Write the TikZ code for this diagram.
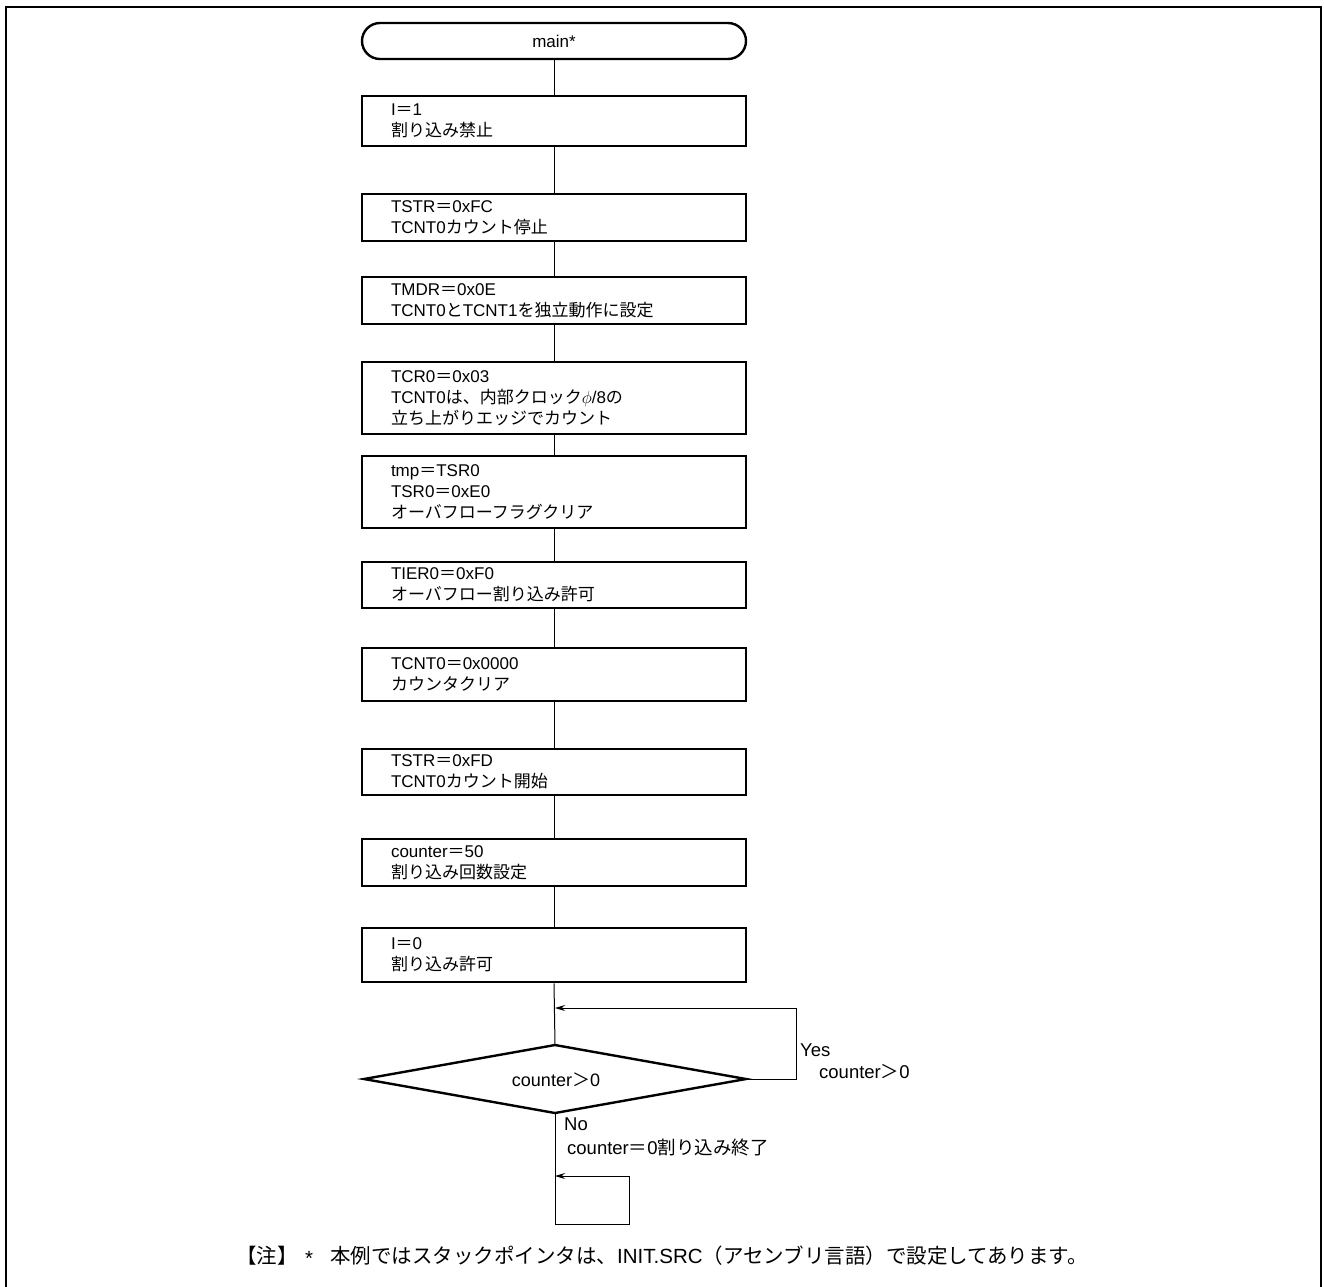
\documentclass[tikz,border=0pt]{standalone}
\usepackage{fontspec}
\setmainfont{Liberation Sans}
\newfontfamily\jp{Noto Sans CJK JP}
\newcommand\J[1]{{\jp #1}}
\usetikzlibrary{shapes.geometric,arrows.meta}
\begin{document}
\begin{tikzpicture}[x=1pt,y=-1pt,
  every node/.style={font=\fontsize{17}{21}\selectfont},
  procbox/.style={draw, line width=2.4pt, minimum width=384pt, text width=326pt,
    align=left, inner xsep=29pt, inner ysep=0pt, anchor=north},
  termbox/.style={draw, line width=2.4pt, minimum width=384pt, minimum height=36pt,
    rounded corners=18pt, inner sep=0pt},
  decline/.style={line width=2.4pt, line join=miter},
  conn/.style={line width=1pt},
  arr/.style={line width=1pt, -{Stealth[length=10pt,width=6pt]}},
  lbl/.style={inner sep=0pt, anchor=west, font=\fontsize{18.5}{21}\selectfont},
  note/.style={inner sep=0pt, anchor=west, font=\fontsize{20.5}{22}\selectfont},
  frame/.style={line width=2.5pt}
]
\useasboundingbox (0,0) rectangle (1324,1286);
\draw[frame] (6,1300) -- (6,7) -- (1321,7) -- (1321,1300);

\node[termbox] (t0) at (554,41) {main*};
\node[procbox, minimum height=50pt] (b1) at (554,95) {I\J{＝}1\\\J{割り込み禁止}};
\node[procbox, minimum height=47pt] (b2) at (554,193) {TSTR\J{＝}0xFC\\TCNT0\J{カウント停止}};
\node[procbox, minimum height=47pt] (b3) at (554,276) {TMDR\J{＝}0x0E\\TCNT0\J{と}TCNT1\J{を独立動作に設定}};
\node[procbox, minimum height=72pt] (b4) at (554,361) {TCR0\J{＝}0x03\\TCNT0\J{は、内部クロック}$\phi$/8\J{の}\\\J{立ち上がりエッジでカウント}};
\node[procbox, minimum height=72pt] (b5) at (554,455) {tmp\J{＝}TSR0\\TSR0\J{＝}0xE0\\\J{オーバフローフラグクリア}};
\node[procbox, minimum height=46pt] (b6) at (554,561) {TIER0\J{＝}0xF0\\\J{オーバフロー割り込み許可}};
\node[procbox, minimum height=53pt] (b7) at (554,647) {TCNT0\J{＝}0x0000\\\J{カウンタクリア}};
\node[procbox, minimum height=46pt] (b8) at (554,748) {TSTR\J{＝}0xFD\\TCNT0\J{カウント開始}};
\node[procbox, minimum height=47pt] (b9) at (554,838) {counter\J{＝}50\\\J{割り込み回数設定}};
\node[procbox, minimum height=54pt] (b10) at (554,927) {I\J{＝}0\\\J{割り込み許可}};

% decision diamond
\coordinate (dt) at (555,1045);
\coordinate (dr) at (746,1079);
\coordinate (db) at (555,1113);
\coordinate (dl) at (364,1079);
\draw[decline] (dt) -- (dr) -- (db) -- (dl) -- cycle;
\node[inner sep=0pt, font=\fontsize{18}{21}\selectfont] (d) at (556,1080) {counter\J{＞}0};

\draw[conn] (t0.south) -- (b1.north);
\draw[conn] (b1.south) -- (b2.north);
\draw[conn] (b2.south) -- (b3.north);
\draw[conn] (b3.south) -- (b4.north);
\draw[conn] (b4.south) -- (b5.north);
\draw[conn] (b5.south) -- (b6.north);
\draw[conn] (b6.south) -- (b7.north);
\draw[conn] (b7.south) -- (b8.north);
\draw[conn] (b8.south) -- (b9.north);
\draw[conn] (b9.south) -- (b10.north);
\draw[conn] (b10.south) -- (dt);

\coordinate (yr) at (796,1008);
\coordinate (yj) at (555,1008);
\draw[arr] (dr) -| (yr) -- (yj);

\coordinate (l1) at (555,1224);
\coordinate (l2) at (629,1176);
\coordinate (l3) at (555,1176);
\draw[arr] (db) -- (l1) -| (l2) -- (l3);

\node[lbl] (yes) at (800,1050) {Yes};
\node[lbl] (yesc) at (819,1072) {counter\J{＞}0};
\node[lbl] (no) at (564,1124) {No};
\node[lbl] (noc) at (567,1147) {counter\J{＝}0\J{割り込み終了}};

\node[note] (n1) at (236,1256) {\J{【注】}};
\node[note] (n2) at (305,1258) {*};
\node[note] (n3) at (330,1256) {\J{本例ではスタックポインタは、}INIT.SRC\J{（アセンブリ言語）で設定してあります。}};
\end{tikzpicture}
\end{document}
